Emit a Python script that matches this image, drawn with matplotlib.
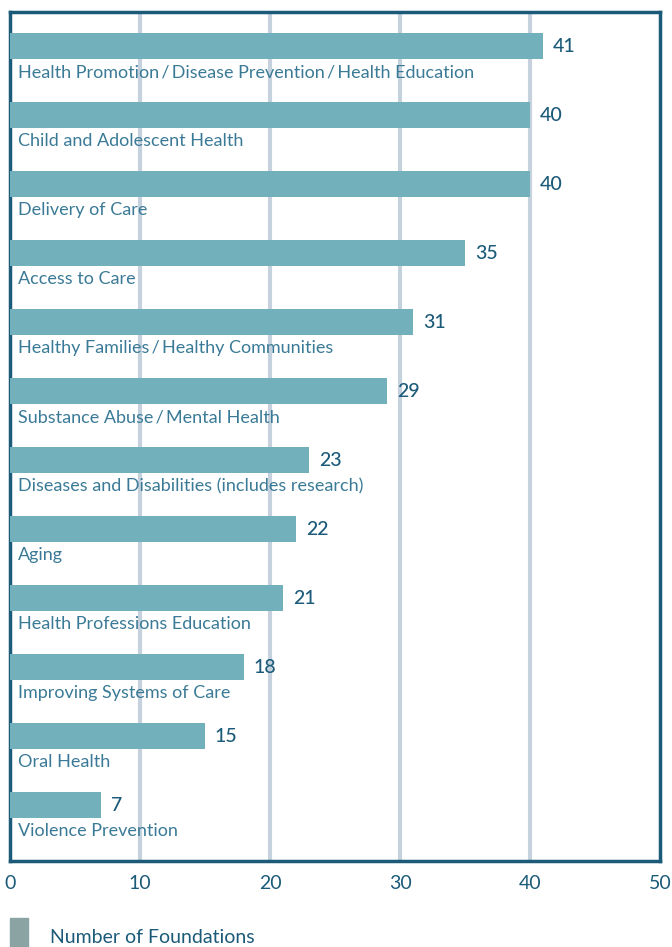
import matplotlib.pyplot as plt
from matplotlib.patches import Rectangle

categories = [
    'Health Promotion\u2009/\u2009Disease Prevention\u2009/\u2009Health Education',
    'Child and Adolescent Health',
    'Delivery of Care',
    'Access to Care',
    'Healthy Families\u2009/\u2009Healthy Communities',
    'Substance Abuse\u2009/\u2009Mental Health',
    'Diseases and Disabilities (includes research)',
    'Aging',
    'Health Professions Education',
    'Improving Systems of Care',
    'Oral Health',
    'Violence Prevention',
]
counts = [41, 40, 40, 35, 31, 29, 23, 22, 21, 18, 15, 7]
x_ticks = [0, 10, 20, 30, 40, 50]

bar_color = '#72b0bc'
dark = '#1b5a78'
label_color = '#3a7a96'
grid_color = '#c5d1dd'

plt.rcParams['font.family'] = ['Lato', 'DejaVu Sans']

fig = plt.figure(figsize=(6.72, 9.47), dpi=100)
ax = fig.add_axes([10 / 672, 1 - 861 / 947, 650 / 672, 849 / 947])

rows = list(range(len(categories)))
ax.barh(rows, counts, height=0.37, color=bar_color, zorder=3)

for i, (cat, val) in enumerate(zip(categories, counts)):
    ax.text(0.62, i + 0.38, cat, ha='left', va='center', fontsize=13,
            color=label_color, fontweight='normal', zorder=4)
    ax.text(val + 0.75, i, str(val), ha='left', va='center', fontsize=14,
            color=dark, fontweight='medium', zorder=4)

ax.set_xlim(0, 50)
ax.set_ylim(11.81, -0.493)
ax.set_xticks(x_ticks)
ax.set_xticklabels([str(t) for t in x_ticks], fontsize=14, color=dark)
ax.set_yticks([])
ax.tick_params(axis='x', length=0, pad=10)
for t in x_ticks[1:-1]:
    ax.axvline(t, color=grid_color, lw=3, zorder=1)
for s in ax.spines.values():
    s.set_color(dark)
    s.set_linewidth(2.5)

fig.patches.append(Rectangle((10 / 672, 0), 18 / 672, 29 / 947,
                             transform=fig.transFigure, color='#8ca3a3'))
fig.text(50 / 672, 1 - 937 / 947, 'Number of Foundations', fontsize=14,
         color=dark, va='center', ha='left')

fig.savefig('out.png', dpi=100)
